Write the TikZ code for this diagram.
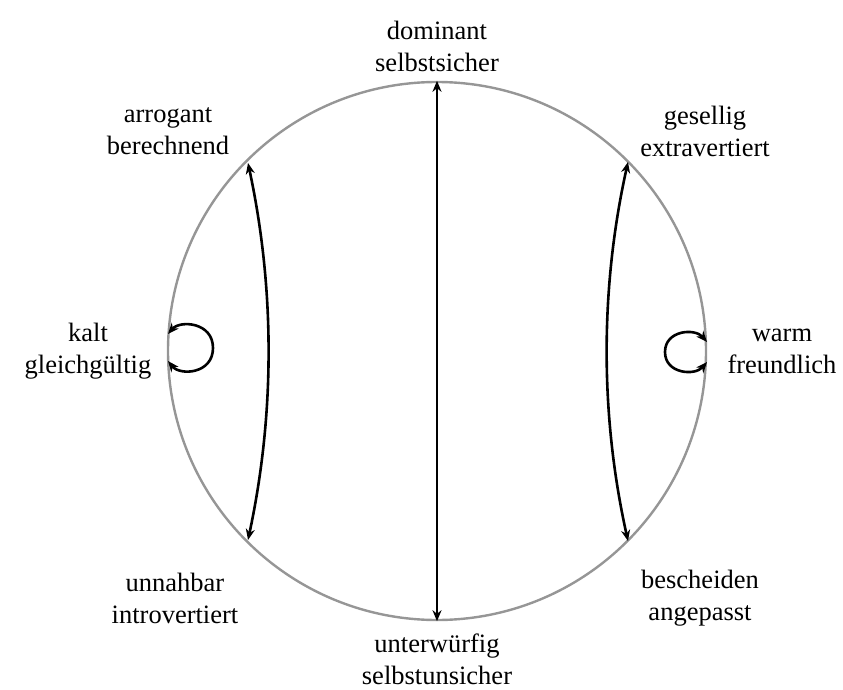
\documentclass[tikz,border=0pt]{standalone}
\usepackage{fontspec}
\setmainfont{Liberation Serif}
\usetikzlibrary{arrows.meta}
\definecolor{ringgray}{RGB}{150,150,150}
\begin{document}
\begin{tikzpicture}[x=1pt,y=-1pt,
  lbl/.style={align=center,inner sep=0pt,font=\fontsize{26.5}{32}\selectfont},
  conn/.style={line width=2.6pt,{Stealth[length=11pt,width=9pt]}-{Stealth[length=11pt,width=9pt]}}]
\useasboundingbox (0,0) rectangle (843,690);
\node[circle,draw=ringgray,line width=2.4pt,minimum size=538pt,inner sep=0pt] (ring) at (437,351) {};
% labels
\node[lbl] (dom) at (437,46) {dominant\\selbstsicher};
\node[lbl] (arr) at (168,131) {arrogant\\berechnend};
\node[lbl] (ges) at (705,131) {gesellig\\extravertiert};
\node[lbl] (kal) at (88,351) {kalt\\gleichgültig};
\node[lbl] (war) at (782,351) {warm\\freundlich};
\node[lbl] (unn) at (175,598) {unnahbar\\introvertiert};
\node[lbl] (bes) at (700,598) {bescheiden\\angepasst};
\node[lbl] (unt) at (437,659) {unterwürfig\\selbstunsicher};
% connector ends
\coordinate (lt) at (248,163);
\coordinate (lb) at (248,540);
\coordinate (rt) at (628,162);
\coordinate (rb) at (628,541);
\coordinate (l1) at (168,334);
\coordinate (l2) at (168,361);
\coordinate (r1) at (707,342);
\coordinate (r2) at (707,362);
% connectors
\draw[conn] (ring.north) -- (ring.south);
\draw[conn] (lt) .. controls (275,289) and (275,414) .. (lb);
\draw[conn] (rt) .. controls (600,288) and (600,415) .. (rb);
\draw[conn] (l1) .. controls (180,320) and (213,322) .. (213,348) .. controls (213,374) and (180,376) .. (l2);
\draw[conn] (r1) .. controls (695,328) and (665,330) .. (665,352) .. controls (665,374) and (695,376) .. (r2);
\end{tikzpicture}
\end{document}
